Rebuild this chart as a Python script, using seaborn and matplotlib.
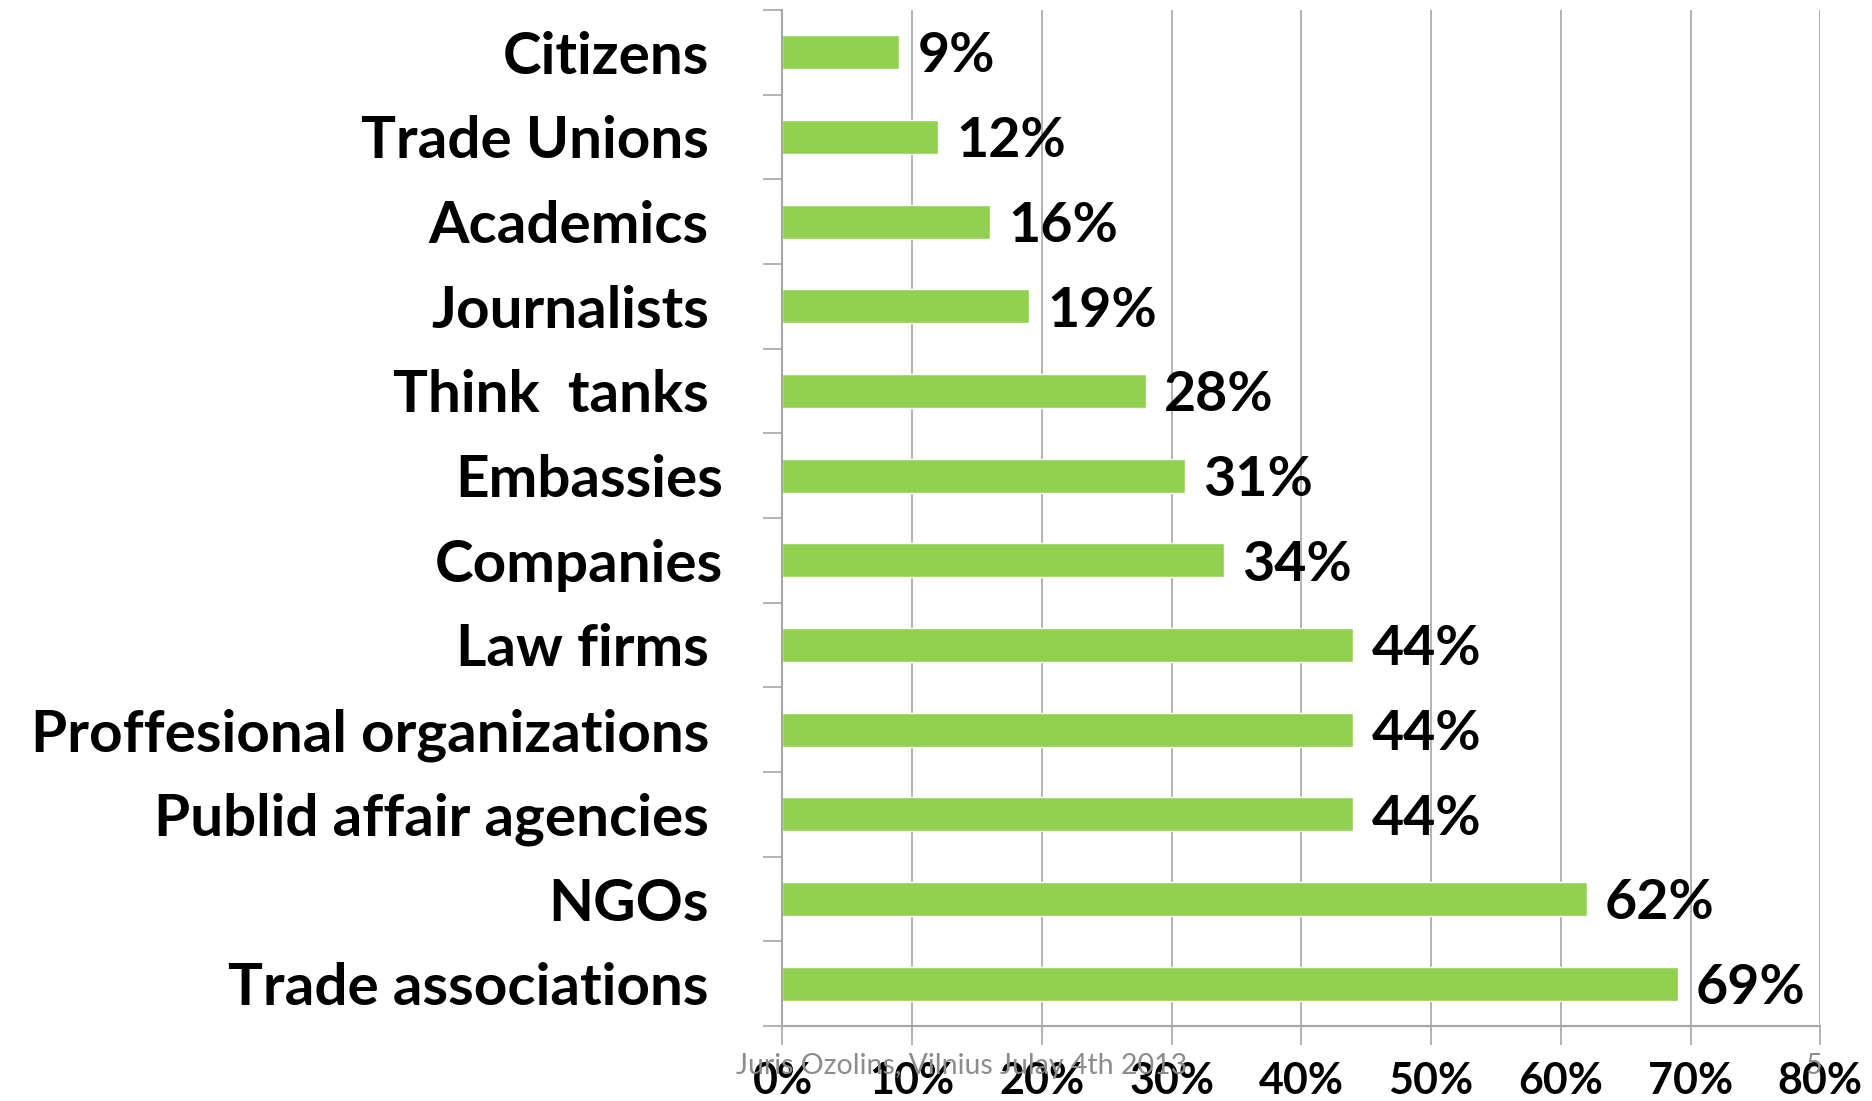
import matplotlib
matplotlib.use("Agg")
import matplotlib.pyplot as plt
import matplotlib.transforms as mtransforms
import seaborn as sns
import pandas as pd
import numpy as np

# chart data, top to bottom
categories = [
    "Citizens",
    "Trade Unions",
    "Academics",
    "Journalists",
    "Think  tanks",
    "Embassies",
    "Companies",
    "Law firms",
    "Proffesional organizations",
    "Publid affair agencies",
    "NGOs",
    "Trade associations",
]
shares = [9, 12, 16, 19, 28, 31, 34, 44, 44, 44, 62, 69]
x_ticks = [0, 10, 20, 30, 40, 50, 60, 70, 80]
footer_left = "Juris Ozolins, Vilnius Julay 4th 2013"
footer_right = "5"

df = pd.DataFrame({"category": categories, "share": shares})

sns.set_style("white")
plt.rcParams["font.family"] = ["Lato", "DejaVu Sans"]
plt.rcParams["text.color"] = "black"

fig = plt.figure(figsize=(18.72, 11.01), dpi=100)
ax = fig.add_axes([0.418, 0.0681, 0.9724 - 0.418, 0.991 - 0.0681])

sns.barplot(data=df, y="category", x="share", orient="h", color="#92D050",
            width=0.4, saturation=1, ax=ax)

ax.set_xlim(0, 80)
ax.set_ylim(len(categories) - 0.5, -0.5)
ax.set_xlabel("")
ax.set_ylabel("")

# gridlines and axis styling in the old office look
ax.set_xticks(x_ticks)
ax.set_xticklabels([f"{t}%" for t in x_ticks], fontsize=31, fontweight="bold")
ax.xaxis.grid(True, color="#A6A6A6", linewidth=1.2)
ax.set_axisbelow(True)
for side in ["top", "right"]:
    ax.spines[side].set_visible(False)
for side in ["left", "bottom"]:
    ax.spines[side].set_color("#A6A6A6")
    ax.spines[side].set_linewidth(1.5)
ax.tick_params(axis="x", direction="out", length=14, width=1.2, color="#A6A6A6",
               pad=11, bottom=True, labelcolor="black")

ax.set_yticks(range(len(categories)))
ax.set_yticklabels(categories, fontsize=42, fontweight="bold")
ax.tick_params(axis="y", length=0, pad=53, labelcolor="black")
ax.set_yticks(np.arange(-0.5, len(categories), 1), minor=True)
ax.tick_params(axis="y", which="minor", direction="out", length=14, width=1.2,
               color="#A6A6A6", left=True)

# two labels sit a little further right in the original slide
for lab in ax.get_yticklabels():
    if lab.get_text() in ("Embassies", "Companies"):
        lab.set_transform(lab.get_transform() +
                          mtransforms.ScaledTranslation(0.14, 0, fig.dpi_scale_trans))

# value labels
for i, v in enumerate(shares):
    ax.text(v + 1.4, i + 0.05, f"{v}%", va="center", ha="left",
            fontsize=40, fontweight="bold", color="black")

# footer
fig.text(736 / 1872, 1 - 1066 / 1101, footer_left, fontsize=20.5, color="#8C8C8C",
         va="center", ha="left")
fig.text(1805 / 1872, 1 - 1066 / 1101, footer_right, fontsize=20.5, color="#8C8C8C",
         va="center", ha="left")

fig.savefig("out.png", dpi=100)
